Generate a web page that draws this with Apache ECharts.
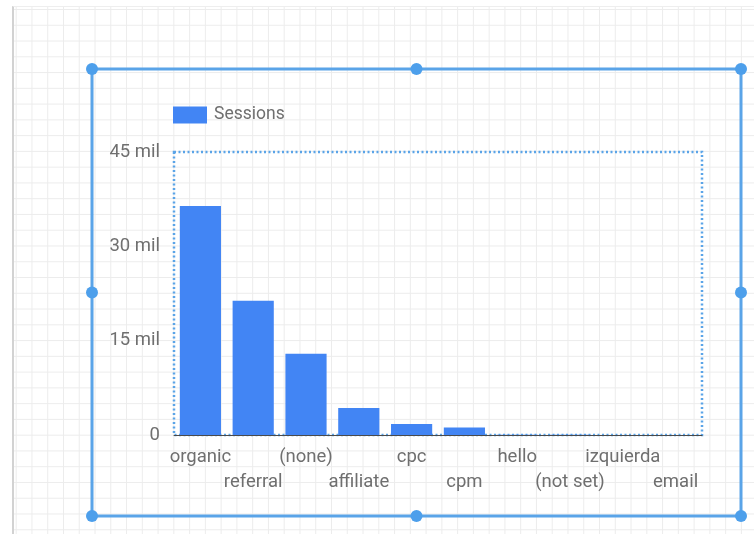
<!DOCTYPE html>
<html>
<head>
<meta charset="utf-8">
<script src="https://cdn.jsdelivr.net/npm/echarts@6/dist/echarts.min.js"></script>
<style>
  html, body { margin: 0; padding: 0; background: #ffffff; }
  #page { position: relative; width: 754px; height: 534px; overflow: hidden; background: #ffffff; }
  /* report canvas with its snapping grid */
  #canvas {
    position: absolute; left: 12px; top: 6px; width: 742px; height: 528px;
    border-left: 2px solid #d2d2d2; border-top: 1px solid #eeeeee;
    box-sizing: border-box;
    background-color: #ffffff;
    background-image:
      linear-gradient(to right, #ececec 1px, transparent 1px),
      linear-gradient(to bottom, #ececec 1px, transparent 1px);
    background-size: 15.78px 15.78px;
    background-position: 1.7px 2px;
  }
  #chart { position: absolute; left: 0; top: 0; width: 754px; height: 534px; }
</style>
</head>
<body>
<div id="page">
  <div id="canvas"></div>
  <div id="chart"></div>
</div>
<script>
// Sessions by traffic medium
const categories = ['organic', 'referral', '(none)', 'affiliate', 'cpc', 'cpm', 'hello', '(not set)', 'izquierda', 'email'];
const sessions = [36400000, 21350000, 12900000, 4300000, 1750000, 1200000, 40000, 25000, 10000, 5000];
const yTicks = [0, 15000000, 30000000, 45000000];

const textColor = '#6f6f6f';
const frameColor = '#5aa4e8';
const handleColor = '#4d9feb';

function tickLabel(v) {
  return v === 0 ? '0' : (v / 1000000) + ' mil';
}

// selection frame around the chart component
const frame = { left: 92, top: 69, right: 741, bottom: 516 };
const midX = (frame.left + frame.right) / 2;
const midY = (frame.top + frame.bottom) / 2;
const handles = [
  [frame.left, frame.top], [midX, frame.top], [frame.right, frame.top],
  [frame.left, midY], [frame.right, midY],
  [frame.left, frame.bottom], [midX, frame.bottom], [frame.right, frame.bottom]
];

const graphic = [{
  type: 'rect',
  shape: { x: frame.left, y: frame.top, width: frame.right - frame.left, height: frame.bottom - frame.top },
  style: { fill: 'none', stroke: frameColor, lineWidth: 3 },
  silent: true, z: 100
}].concat(handles.map(p => ({
  type: 'circle',
  shape: { cx: p[0], cy: p[1], r: 6 },
  style: { fill: handleColor, stroke: 'none' },
  silent: true, z: 101
})));

const chart = echarts.init(document.getElementById('chart'), null, { renderer: 'canvas' });
chart.setOption({
  backgroundColor: 'transparent',
  animation: false,
  textStyle: { fontFamily: 'Roboto, sans-serif' },
  legend: {
    data: ['Sessions'],
    left: 168, top: 101,
    itemWidth: 34, itemHeight: 17,
    itemGap: 10,
    icon: 'rect',
    textStyle: { color: textColor, fontSize: 17.5, fontFamily: 'Roboto', padding: [2, 0, 0, 2] }
  },
  grid: {
    left: 174, right: 52, top: 152, bottom: 99,
    show: true,
    borderColor: frameColor, borderWidth: 2.5, borderType: [2, 2.5],
    backgroundColor: 'transparent'
  },
  xAxis: {
    type: 'category',
    data: categories,
    axisLine: { show: true, lineStyle: { color: '#4a4a4a', width: 1 } },
    axisTick: { show: false },
    axisLabel: {
      interval: 0,
      color: textColor,
      fontSize: 18.5,
      fontFamily: 'Roboto',
      lineHeight: 25,
      margin: 10,
      formatter: (v, i) => (i % 2 === 1 ? '\n' + v : v)
    }
  },
  yAxis: {
    type: 'value',
    min: yTicks[0],
    max: yTicks[yTicks.length - 1],
    interval: yTicks[1] - yTicks[0],
    axisLine: { show: false },
    axisTick: { show: false },
    splitLine: { show: false },
    axisLabel: {
      color: textColor, fontSize: 18.5, fontFamily: 'Roboto', margin: 14,
      formatter: tickLabel
    }
  },
  series: [{
    name: 'Sessions',
    type: 'bar',
    data: sessions,
    barCategoryGap: '22%',
    itemStyle: { color: '#4285f4' }
  }],
  graphic: graphic
});
</script>
</body>
</html>
